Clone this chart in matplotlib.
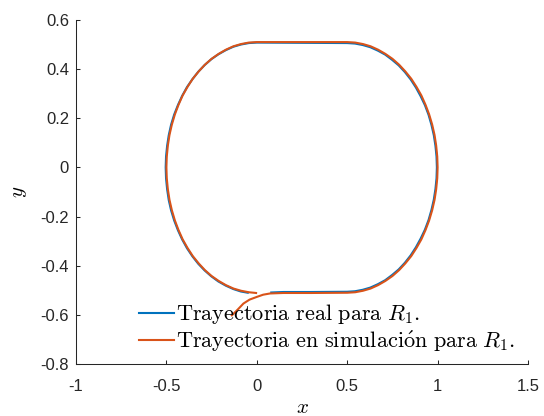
import matplotlib
matplotlib.use('Agg')
import matplotlib.pyplot as plt

plt.rcParams['mathtext.fontset'] = 'cm'
plt.rcParams['font.family'] = ['Liberation Sans', 'DejaVu Sans']

# trayectoria simulada (x, y)
x_sim = [-0.138, -0.105, -0.074, -0.040, 0.000, 0.035, 0.073, 0.147, 0.300,
         # lado derecho
         0.500, 0.544, 0.587, 0.629, 0.671, 0.711, 0.750, 0.787, 0.821, 0.854,
         0.883, 0.910, 0.933, 0.953, 0.970, 0.983, 0.992, 0.998, 1.000,
         0.998, 0.992, 0.983, 0.970, 0.953, 0.933, 0.910, 0.883, 0.854,
         0.821, 0.787, 0.750, 0.711, 0.671, 0.629, 0.587, 0.544, 0.500,
         # tramo superior
         0.250, 0.000,
         # lado izquierdo
         -0.044, -0.087, -0.129, -0.171, -0.211, -0.250, -0.287, -0.321, -0.354,
         -0.383, -0.410, -0.433, -0.453, -0.470, -0.483, -0.492, -0.498, -0.500,
         -0.498, -0.492, -0.483, -0.470, -0.453, -0.433, -0.410, -0.383, -0.354,
         -0.321, -0.287, -0.250, -0.211, -0.171, -0.129, -0.087, -0.044, -0.004]
y_sim = [-0.602, -0.578, -0.554, -0.538, -0.527, -0.518, -0.513, -0.511, -0.511,
         -0.510, -0.508, -0.502, -0.493, -0.479, -0.462, -0.442, -0.418, -0.391, -0.361,
         -0.328, -0.293, -0.255, -0.216, -0.174, -0.132, -0.089, -0.044, 0.000,
         0.044, 0.089, 0.132, 0.174, 0.216, 0.255, 0.293, 0.328, 0.361,
         0.391, 0.418, 0.442, 0.462, 0.479, 0.493, 0.502, 0.508, 0.510,
         0.510, 0.510,
         0.508, 0.502, 0.493, 0.479, 0.462, 0.442, 0.418, 0.391, 0.361,
         0.328, 0.293, 0.255, 0.216, 0.174, 0.132, 0.089, 0.044, 0.000,
         -0.044, -0.089, -0.132, -0.174, -0.216, -0.255, -0.293, -0.328, -0.361,
         -0.391, -0.418, -0.442, -0.462, -0.479, -0.493, -0.502, -0.508, -0.511]

# trayectoria real (x, y)
x_real = [0.080, 0.147, 0.300,
          0.500, 0.543, 0.586, 0.628, 0.670, 0.710, 0.748, 0.785, 0.819, 0.851,
          0.880, 0.906, 0.930, 0.950, 0.966, 0.979, 0.988, 0.994, 0.996,
          0.994, 0.988, 0.979, 0.966, 0.950, 0.930, 0.906, 0.880, 0.851,
          0.819, 0.785, 0.748, 0.710, 0.670, 0.628, 0.586, 0.543, 0.500,
          0.250, 0.000,
          -0.044, -0.088, -0.130, -0.172, -0.213, -0.252, -0.289, -0.324, -0.356,
          -0.386, -0.413, -0.436, -0.457, -0.474, -0.487, -0.496, -0.502, -0.504,
          -0.502, -0.496, -0.487, -0.474, -0.457, -0.436, -0.413, -0.386, -0.356,
          -0.324, -0.289, -0.252, -0.213, -0.172, -0.130, -0.088, -0.050]
y_real = [-0.509, -0.507, -0.507,
          -0.506, -0.504, -0.498, -0.489, -0.475, -0.459, -0.438, -0.415, -0.388, -0.358,
          -0.325, -0.290, -0.253, -0.214, -0.173, -0.131, -0.088, -0.044, 0.000,
          0.044, 0.088, 0.131, 0.173, 0.214, 0.253, 0.290, 0.325, 0.358,
          0.388, 0.415, 0.438, 0.459, 0.475, 0.489, 0.498, 0.504, 0.506,
          0.507, 0.508,
          0.506, 0.500, 0.491, 0.477, 0.460, 0.440, 0.416, 0.389, 0.359,
          0.327, 0.291, 0.254, 0.215, 0.174, 0.131, 0.088, 0.044, 0.000,
          -0.044, -0.089, -0.133, -0.175, -0.216, -0.256, -0.293, -0.329, -0.362,
          -0.392, -0.419, -0.443, -0.464, -0.481, -0.495, -0.505, -0.510]

labels = [r'$\mathrm{Trayectoria\ real\ para\ }R_1.$',
          r'$\mathrm{Trayectoria\ en\ simulaci\acute{o}n\ para\ }R_1.$']
x_ticks = [-1, -0.5, 0, 0.5, 1, 1.5]
x_tick_labels = ['-1', '-0.5', '0', '0.5', '1', '1.5']
y_ticks = [-0.8, -0.6, -0.4, -0.2, 0, 0.2, 0.4, 0.6]
y_tick_labels = ['-0.8', '-0.6', '-0.4', '-0.2', '0', '0.2', '0.4', '0.6']

azul = '#0072BD'
naranja = '#D95319'

fig = plt.figure(figsize=(5.44, 4.16), dpi=100)
ax = fig.add_axes([0.1397, 0.125, 0.8309, 0.827])

l1, = ax.plot(x_real, y_real, color=azul, lw=1.5, solid_joinstyle='round')
l2, = ax.plot(x_sim, y_sim, color=naranja, lw=1.5, solid_joinstyle='round')

ax.set_xlim(-1, 1.5)
ax.set_ylim(-0.8, 0.6)
ax.set_xticks(x_ticks)
ax.set_xticklabels(x_tick_labels)
ax.set_yticks(y_ticks)
ax.set_yticklabels(y_tick_labels)

ax.spines['top'].set_visible(False)
ax.spines['right'].set_visible(False)
for s in ['left', 'bottom']:
    ax.spines[s].set_color('#262626')
    ax.spines[s].set_linewidth(0.75)
ax.tick_params(direction='in', length=3, width=0.75, color='#262626',
               labelsize=12, labelcolor='#262626')
ax.tick_params(axis='x', pad=11)
ax.tick_params(axis='y', pad=5)

ax.set_xlabel(r'$x$', fontsize=15, labelpad=3)
ax.set_ylabel(r'$y$', fontsize=15, labelpad=8)

ax.legend([l1, l2], labels, loc='lower left', bbox_to_anchor=(0.14, 0.03),
          frameon=False, fontsize=16, handlelength=1.58, handletextpad=0.05,
          labelspacing=0.1, borderaxespad=0, borderpad=0)

fig.savefig('out.png', dpi=100)
